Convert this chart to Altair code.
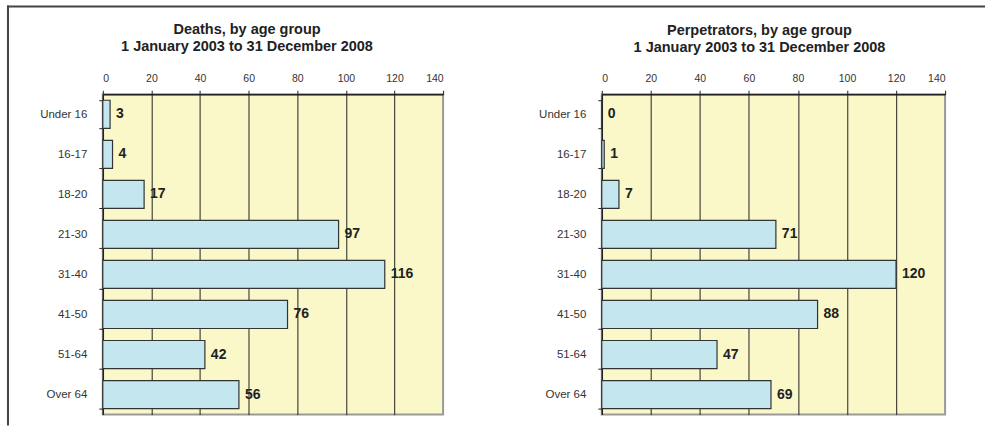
import altair as alt
import pandas as pd

ages = ["Under 16", "16-17", "18-20", "21-30", "31-40", "41-50", "51-64", "Over 64"]
deaths = [3, 4, 17, 97, 116, 76, 42, 56]
perpetrators = [0, 1, 7, 71, 120, 88, 47, 69]
x_ticks = [0, 20, 40, 60, 80, 100, 120, 140]

title_left = ["Deaths,  by age group", "1 January 2003 to 31 December 2008"]
title_right = ["Perpetrators, by age group", "1 January 2003 to 31 December 2008"]

FONT = "Liberation Sans"
DARK = "#222222"
BAR = "#C4E7EF"
PLOT_BG = "#FAF7C8"


def panel(values, title, width, height, dx, border=False):
    df = pd.DataFrame({"age": ages, "value": values})
    yenc = alt.Y(
        "age:N",
        sort=ages,
        title=None,
        scale=alt.Scale(paddingInner=0.3, paddingOuter=0.15),
        axis=alt.Axis(
            tickBand="extent",
            tickSize=4,
            tickColor=DARK,
            domainColor=DARK,
            domainWidth=1.5,
            labelPadding=12,
            labelFontSize=11.5,
            labelColor="#333333",
            labelFont=FONT,
            grid=False,
        ),
    )
    xenc = alt.X(
        "value:Q",
        title=None,
        scale=alt.Scale(domain=[0, 140], nice=False),
        axis=alt.Axis(
            orient="top",
            values=x_ticks,
            tickSize=4,
            tickColor=DARK,
            domainColor=DARK,
            domainWidth=1.5,
            labelPadding=7,
            labelFontSize=10.5,
            labelColor="#333333",
            labelFont=FONT,
            grid=True,
            gridColor={
                "condition": {"test": "datum.value == 0 || datum.value == 140", "value": "transparent"},
                "value": DARK,
            },
            gridWidth=1,
            gridOpacity=1,
        ),
    )
    base = alt.Chart(df)
    bars = base.mark_bar(fill=BAR, stroke="#333333", strokeWidth=1.2).encode(y=yenc, x=xenc)
    labels = base.mark_text(
        align="left", baseline="middle", dx=6, fontSize=14, fontWeight="bold", color=DARK, font=FONT
    ).encode(y=alt.Y("age:N", sort=ages), x=alt.X("value:Q"), text=alt.Text("value:Q"))
    layers = [bars, labels]
    title_kw = dict(
        text=title,
        anchor="middle",
        dx=dx,
        font=FONT,
        fontSize=14.5,
        fontWeight="bold",
        color=DARK,
        lineHeight=16.5,
    )
    if border:
        blank = alt.Data(values=[{}])
        top_line = alt.Chart(blank).mark_rect(color="#444444", strokeWidth=0).encode(
            x=alt.value(-96), x2=alt.value(884), y=alt.value(-89), y2=alt.value(-87)
        )
        left_line = alt.Chart(blank).mark_rect(color="#444444", strokeWidth=0).encode(
            x=alt.value(-96), x2=alt.value(-94), y=alt.value(-89), y2=alt.value(332)
        )
        layers += [top_line, left_line]
        title_kw.update(orient="bottom", offset=-403, baseline="top")
    else:
        title_kw.update(offset=18)
    return alt.layer(*layers).properties(
        width=width,
        height=height,
        title=alt.TitleParams(**title_kw),
    )


left = panel(deaths, title_left, 341, 321, -26, border=True)
right = panel(perpetrators, title_right, 344, 321, -14)

chart = (
    alt.hconcat(left, right, spacing=159, bounds="flush")
    .properties(padding={"left": 6, "top": 4, "right": 0, "bottom": 0}, background="white")
    .configure_view(fill=PLOT_BG, stroke="#9a9a9a", strokeWidth=2)
)

chart.save("out.html", embed_options={"renderer": "svg", "actions": False})
